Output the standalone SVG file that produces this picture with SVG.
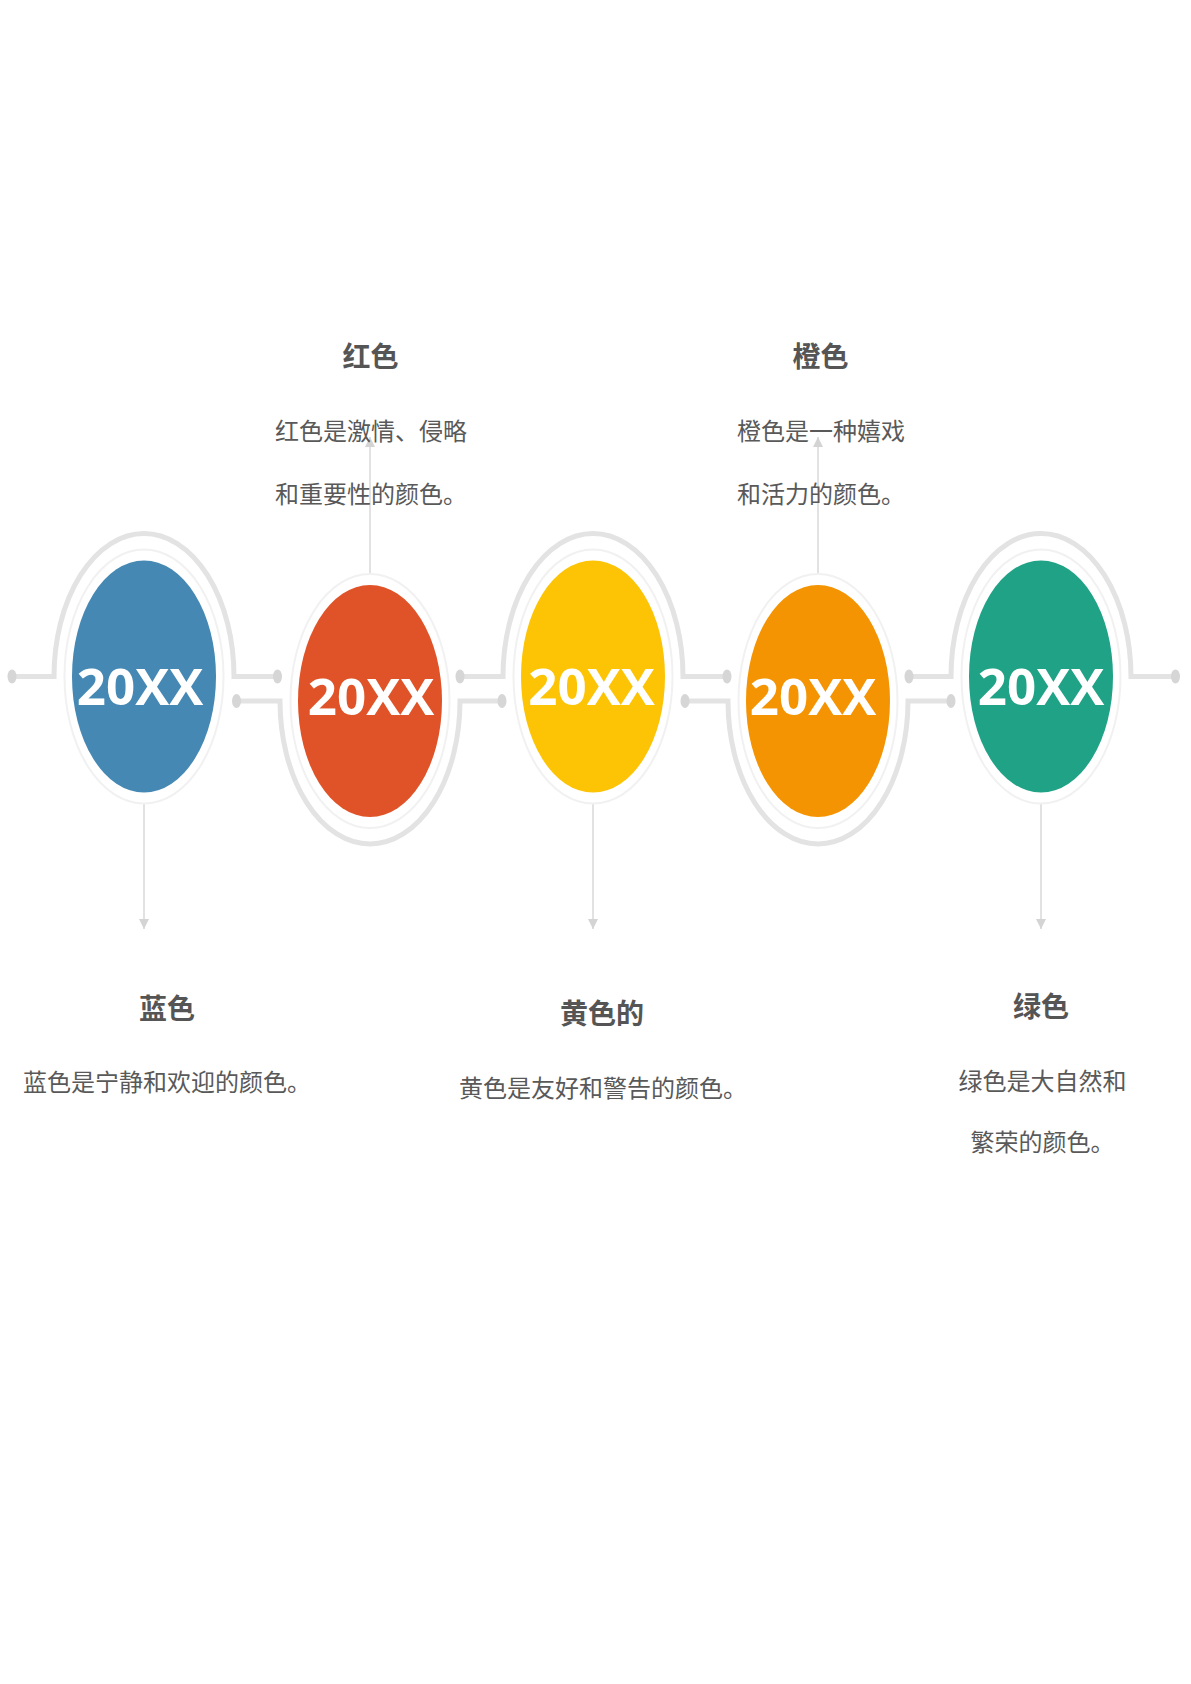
<svg xmlns="http://www.w3.org/2000/svg" width="1191" height="1684" viewBox="0 0 1191 1684">
<style>
.track{fill:none;stroke:#e3e3e3;stroke-width:5}
.dot{fill:#d6d6d6}
.halo{fill:#ffffff;stroke:#f1f1f1;stroke-width:2}
.conn{stroke:#d9d9d9;stroke-width:1.5;fill:none}
.yr{font-family:"Open Sans","Noto Sans",sans-serif;font-weight:700;font-size:51px;fill:#ffffff;text-anchor:middle}
.ttl{font-family:"Noto Sans CJK SC","Noto Sans",sans-serif;font-weight:700;font-size:28px;fill:#555555;text-anchor:middle}
.txt{font-family:"Noto Sans CJK SC","Noto Sans",sans-serif;font-size:24px;fill:#595959}
</style>
<defs>
<marker id="ah" viewBox="0 0 10 10" refX="10" refY="5" markerWidth="10" markerHeight="10" markerUnits="userSpaceOnUse" orient="auto">
<path d="M0,0 L10,5 L0,10 Z" fill="#d4d4d4"/>
</marker>
</defs>
<rect width="1191" height="1684" fill="#ffffff"/>
<g id="track">
<path class="track" d="M12,676.5 H54 A90,143 0 0 1 234,676.5 H277.5"/>
<path class="track" d="M236.5,701 H280 A90,143 0 0 0 460,701 H502"/>
<path class="track" d="M460,676.5 H503 A90,143 0 0 1 683,676.5 H727"/>
<path class="track" d="M685,701 H728 A90,143 0 0 0 908,701 H951"/>
<path class="track" d="M909,676.5 H951 A90,143 0 0 1 1131,676.5 H1175.5"/>
<ellipse class="dot" cx="12" cy="676.5" rx="4.5" ry="7"/>
<ellipse class="dot" cx="277.5" cy="676.5" rx="4.5" ry="7"/>
<ellipse class="dot" cx="236.5" cy="701" rx="4.5" ry="7"/>
<ellipse class="dot" cx="460" cy="676.5" rx="4.5" ry="7"/>
<ellipse class="dot" cx="502" cy="701" rx="4.5" ry="7"/>
<ellipse class="dot" cx="727" cy="676.5" rx="4.5" ry="7"/>
<ellipse class="dot" cx="685" cy="701" rx="4.5" ry="7"/>
<ellipse class="dot" cx="909" cy="676.5" rx="4.5" ry="7"/>
<ellipse class="dot" cx="951" cy="701" rx="4.5" ry="7"/>
<ellipse class="dot" cx="1175.5" cy="676.5" rx="4.5" ry="7"/>
</g>
<g id="connectors">
<line class="conn" x1="144" y1="803" x2="144" y2="929" marker-end="url(#ah)"/>
<line class="conn" x1="593" y1="803" x2="593" y2="929" marker-end="url(#ah)"/>
<line class="conn" x1="1041" y1="803" x2="1041" y2="929" marker-end="url(#ah)"/>
<line class="conn" x1="370" y1="574" x2="370" y2="437" marker-end="url(#ah)"/>
<line class="conn" x1="818" y1="574" x2="818" y2="437" marker-end="url(#ah)"/>
</g>
<g id="node-blue">
<ellipse class="halo" cx="144" cy="676.5" rx="79.5" ry="127"/>
<ellipse cx="144" cy="676.5" rx="72" ry="116" fill="#4488b3"/>
<text class="yr" x="140" y="704.5">20XX</text>
</g>
<g id="node-red">
<ellipse class="halo" cx="370" cy="701" rx="79.5" ry="127"/>
<ellipse cx="370" cy="701" rx="72" ry="116" fill="#e05328"/>
<text class="yr" x="371" y="715">20XX</text>
</g>
<g id="node-yellow">
<ellipse class="halo" cx="593" cy="676.5" rx="79.5" ry="127"/>
<ellipse cx="593" cy="676.5" rx="72" ry="116" fill="#fcc404"/>
<text class="yr" x="591.5" y="704.5">20XX</text>
</g>
<g id="node-orange">
<ellipse class="halo" cx="818" cy="701" rx="79.5" ry="127"/>
<ellipse cx="818" cy="701" rx="72" ry="116" fill="#f49402"/>
<text class="yr" x="813" y="715">20XX</text>
</g>
<g id="node-green">
<ellipse class="halo" cx="1041" cy="676.5" rx="79.5" ry="127"/>
<ellipse cx="1041" cy="676.5" rx="72" ry="116" fill="#1fa286"/>
<text class="yr" x="1041" y="704.5">20XX</text>
</g>
<g id="label-red">
<text class="ttl" x="370.5" y="366.5">红色</text>
<text class="txt" x="275" y="440">红色是激情、侵略</text>
<text class="txt" x="275" y="502.5">和重要性的颜色。</text>
</g>
<g id="label-orange">
<text class="ttl" x="820.5" y="366.5">橙色</text>
<text class="txt" x="737" y="440">橙色是一种嬉戏</text>
<text class="txt" x="737" y="502.5">和活力的颜色。</text>
</g>
<g id="label-blue">
<text class="ttl" x="167" y="1019">蓝色</text>
<text class="txt" x="23" y="1090.5">蓝色是宁静和欢迎的颜色。</text>
</g>
<g id="label-yellow">
<text class="ttl" x="602" y="1024">黄色的</text>
<text class="txt" x="459" y="1096.5">黄色是友好和警告的颜色。</text>
</g>
<g id="label-green">
<text class="ttl" x="1041" y="1017">绿色</text>
<text class="txt" x="958.5" y="1089.5">绿色是大自然和</text>
<text class="txt" x="970.5" y="1151">繁荣的颜色。</text>
</g>
</svg>
